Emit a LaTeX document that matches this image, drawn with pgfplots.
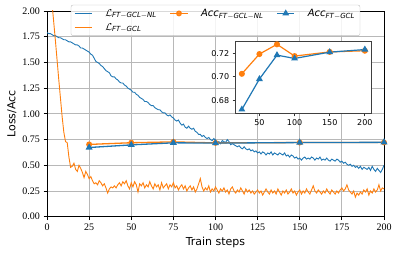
\documentclass[border=0pt]{standalone}
\usepackage{fontspec}
\setmainfont{Liberation Serif}
\newfontfamily\dejavu{DejaVu Sans}
\usepackage{amsmath}
\usepackage{pgfplots}
\usepackage{pgfplotstable}
\pgfplotsset{compat=1.18}
\definecolor{tabblue}{HTML}{1F77B4}
\definecolor{taborange}{HTML}{FF7F0E}
\pgfplotstableread{
x nl gcl
0 1.79 2.60
1 1.78 2.45
2 1.78 2.26
3 1.77 2.07
4 1.76 1.89
5 1.76 1.71
6 1.75 1.52
7 1.74 1.33
8 1.74 1.15
9 1.73 0.97
10 1.72 0.82
11 1.72 0.73
12 1.71 0.72
13 1.70 0.58
14 1.70 0.48
15 1.69 0.49
16 1.68 0.52
17 1.67 0.46
18 1.67 0.44
19 1.66 0.50
20 1.64 0.47
21 1.64 0.43
22 1.63 0.38
23 1.62 0.44
24 1.61 0.41
25 1.60 0.37
26 1.58 0.39
27 1.57 0.35
28 1.54 0.32
29 1.51 0.33
30 1.50 0.31
31 1.49 0.35
32 1.47 0.33
33 1.46 0.30
34 1.44 0.32
35 1.42 0.28
36 1.41 0.23
37 1.40 0.27
38 1.37 0.29
39 1.36 0.28
40 1.36 0.30
41 1.34 0.28
42 1.33 0.31
43 1.31 0.33
44 1.30 0.30
45 1.30 0.34
46 1.28 0.32
47 1.27 0.35
48 1.25 0.30
49 1.24 0.27
50 1.23 0.33
51 1.21 0.29
52 1.21 0.34
53 1.19 0.31
54 1.18 0.24
55 1.16 0.32
56 1.15 0.30
57 1.14 0.33
58 1.12 0.28
59 1.12 0.31
60 1.11 0.29
61 1.09 0.34
62 1.08 0.30
63 1.08 0.27
64 1.06 0.32
65 1.05 0.29
66 1.04 0.31
67 1.04 0.26
68 1.02 0.33
69 1.01 0.28
70 1.01 0.30
71 0.99 0.32
72 0.98 0.27
73 0.99 0.31
74 0.97 0.29
75 0.96 0.33
76 0.94 0.28
77 0.93 0.30
78 0.94 0.26
79 0.91 0.29
80 0.89 0.31
81 0.90 0.27
82 0.87 0.30
83 0.86 0.25
84 0.88 0.28
85 0.86 0.30
86 0.85 0.26
87 0.86 0.29
88 0.83 0.24
89 0.82 0.27
90 0.80 0.32
91 0.80 0.37
92 0.78 0.29
93 0.79 0.25
94 0.77 0.28
95 0.76 0.26
96 0.77 0.30
97 0.75 0.24
98 0.74 0.27
99 0.76 0.25
100 0.74 0.29
101 0.72 0.26
102 0.73 0.23
103 0.71 0.27
104 0.74 0.25
105 0.73 0.28
106 0.72 0.24
107 0.75 0.26
108 0.73 0.22
109 0.70 0.27
110 0.71 0.29
111 0.70 0.25
112 0.69 0.23
113 0.68 0.26
114 0.69 0.24
115 0.67 0.28
116 0.66 0.25
117 0.68 0.22
118 0.66 0.27
119 0.65 0.24
120 0.66 0.26
121 0.64 0.23
122 0.65 0.25
123 0.63 0.22
124 0.64 0.24
125 0.62 0.26
126 0.63 0.23
127 0.61 0.25
128 0.63 0.21
129 0.62 0.24
130 0.60 0.27
131 0.62 0.24
132 0.61 0.22
133 0.63 0.26
134 0.60 0.23
135 0.62 0.25
136 0.61 0.22
137 0.60 0.27
138 0.62 0.24
139 0.61 0.21
140 0.60 0.25
141 0.62 0.23
142 0.59 0.26
143 0.60 0.22
144 0.58 0.24
145 0.60 0.27
146 0.59 0.23
147 0.57 0.25
148 0.58 0.21
149 0.56 0.24
150 0.57 0.26
151 0.55 0.22
152 0.57 0.25
153 0.58 0.23
154 0.56 0.27
155 0.57 0.24
156 0.56 0.22
157 0.58 0.26
158 0.57 0.30
159 0.55 0.25
160 0.57 0.23
161 0.56 0.26
162 0.58 0.24
163 0.55 0.22
164 0.56 0.25
165 0.55 0.23
166 0.57 0.27
167 0.55 0.24
168 0.54 0.22
169 0.56 0.26
170 0.55 0.24
171 0.54 0.22
172 0.56 0.25
173 0.55 0.23
174 0.53 0.26
175 0.54 0.28
176 0.52 0.25
177 0.53 0.27
178 0.51 0.31
179 0.50 0.26
180 0.51 0.24
181 0.49 0.22
182 0.50 0.25
183 0.48 0.19
184 0.49 0.23
185 0.47 0.21
186 0.49 0.24
187 0.46 0.22
188 0.48 0.26
189 0.47 0.24
190 0.46 0.27
191 0.48 0.21
192 0.45 0.25
193 0.49 0.23
194 0.46 0.27
195 0.44 0.24
196 0.47 0.26
197 0.45 0.31
198 0.43 0.25
199 0.46 0.28
200 0.50 0.27
}\losstable
\pgfplotstableread{
step accnl accgcl
25 0.7026 0.6726
50 0.7192 0.6982
75 0.7274 0.7183
100 0.7175 0.7155
150 0.7210 0.7208
200 0.7220 0.7230
}\acctable
\begin{document}
\begin{tikzpicture}
\useasboundingbox (0pt,0pt) rectangle (399pt,253pt);
\begin{axis}[
  at={(47pt,36.3pt)}, anchor=south west, scale only axis,
  width=337pt, height=205.7pt,
  xmin=0, xmax=200, ymin=0, ymax=2,
  xtick={0,25,50,75,100,125,150,175,200},
  ytick={0,0.25,0.5,0.75,1,1.25,1.5,1.75,2},
  yticklabel style={/pgf/number format/fixed, /pgf/number format/fixed zerofill, /pgf/number format/precision=2},
  /pgf/number format/assume math mode=true,
  tick label style={font=\fontsize{10}{12}\selectfont},
  tick align=outside, tick pos=left, major tick length=3.5pt,
  tick style={black, line width=0.8pt},
  axis line style={black, line width=0.8pt},
  grid=major, major grid style={color=black!28, line width=0.8pt},
  xlabel={Train steps}, ylabel={Loss/Acc},
  label style={font=\dejavu\fontsize{11}{13}\selectfont},
  xlabel style={at={(axis description cs:0.5,-0.125)}, anchor=center},
  ylabel style={at={(axis description cs:-0.104,0.5)}, anchor=center},
  legend columns=3,
  legend cell align=left,
  legend style={at={(0.5,1.03)}, anchor=north, draw=black!25, rounded corners=2pt,
    fill=white, fill opacity=0.85, text opacity=1,
    font=\dejavu\fontsize{10}{12}\selectfont,
    /tikz/column sep=11pt, inner xsep=3pt, inner ysep=2pt, row sep=1.5pt},
]
\addlegendimage{tabblue, line width=1.2pt}
\addlegendentry{$\mathcal{L}_{\text{\itshape FT}-\text{\itshape GCL}-\text{\itshape NL}}$}
\addlegendimage{taborange, line width=1.2pt, mark=*, mark size=2.3pt}
\addlegendentry{\itshape Acc$_{\text{\itshape FT}-\text{\itshape GCL}-\text{\itshape NL}}$}
\addlegendimage{tabblue, line width=1.2pt, mark=triangle*, mark size=2.8pt}
\addlegendentry{\itshape Acc$_{\text{\itshape FT}-\text{\itshape GCL}}$}
\addlegendimage{taborange, line width=1.2pt}
\addlegendentry{$\mathcal{L}_{\text{\itshape FT}-\text{\itshape GCL}}$}
\addplot[tabblue, line width=0.9pt, forget plot] table[x=x, y=nl] {\losstable};
\addplot[taborange, line width=0.9pt, forget plot] table[x=x, y=gcl] {\losstable};
\addplot[taborange, line width=1.3pt, mark=*, mark size=2.3pt, forget plot] table[x=step, y=accnl] {\acctable};
\addplot[tabblue, line width=1.3pt, mark=triangle*, mark size=2.8pt, forget plot] table[x=step, y=accgcl] {\acctable};
\end{axis}
\begin{axis}[
  at={(235.7pt,139.7pt)}, anchor=south west, scale only axis,
  width=135.3pt, height=71.6pt,
  xmin=16.25, xmax=208.75, ymin=0.6694, ymax=0.7296,
  xtick={50,100,150,200}, ytick={0.68,0.70,0.72},
  yticklabel style={/pgf/number format/fixed, /pgf/number format/fixed zerofill, /pgf/number format/precision=2},
  /pgf/number format/assume math mode=true,
  tick label style={font=\dejavu\fontsize{8}{10}\selectfont},
  tick align=outside, tick pos=left, major tick length=3pt,
  tick style={black!80, line width=0.8pt},
  axis line style={black!75, line width=0.8pt},
  axis background/.style={fill=white},
]
\addplot[taborange, line width=1.2pt, mark=*, mark size=2.4pt] table[x=step, y=accnl] {\acctable};
\addplot[tabblue, line width=1.2pt, mark=triangle*, mark size=2.8pt] table[x=step, y=accgcl] {\acctable};
\end{axis}
\end{tikzpicture}
\end{document}
